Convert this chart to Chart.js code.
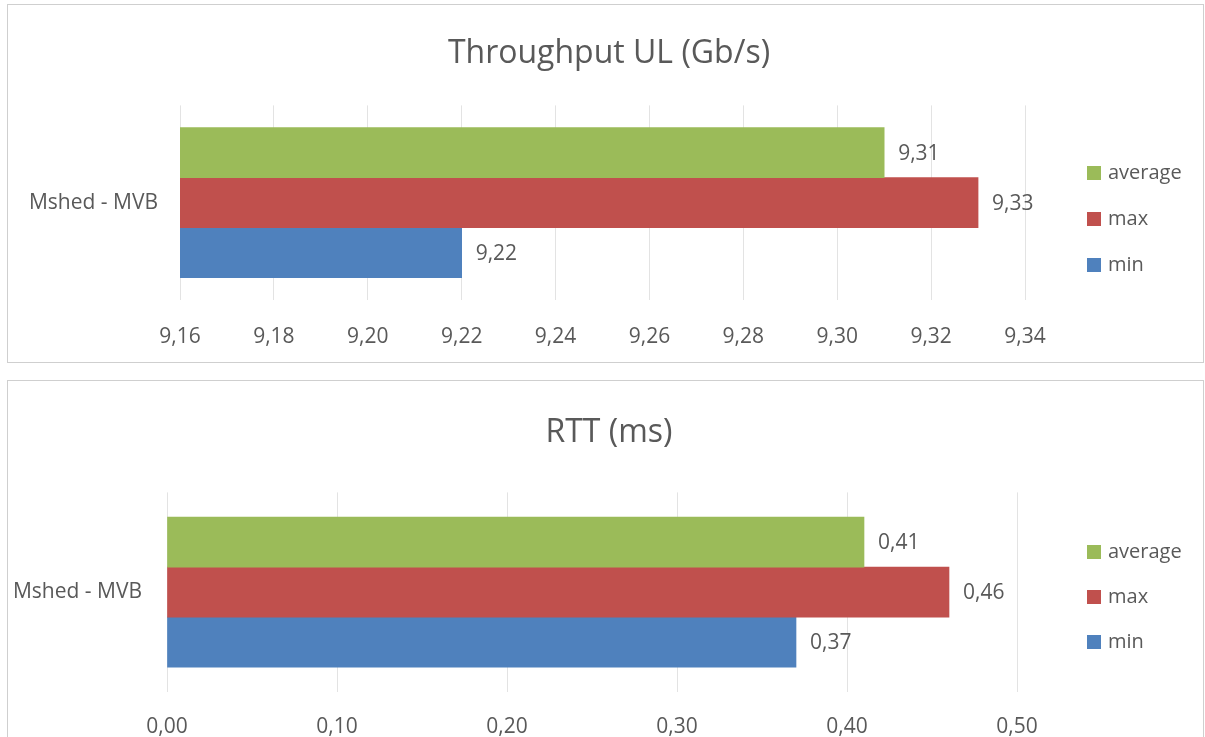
<!DOCTYPE html>
<html>
<head>
<meta charset="utf-8">
<script src="https://cdn.jsdelivr.net/npm/chart.js@4/dist/chart.umd.min.js"></script>
<style>
  html, body { margin: 0; padding: 0; background: #ffffff; overflow: hidden; }
  body { width: 1205px; height: 737px; position: relative; }
  .frame { position: absolute; border: 1px solid #cfcfcf; background: #ffffff; }
  canvas { position: absolute; left: 0; }
</style>
</head>
<body>
<div class="frame" style="left:7px; top:4px; width:1195px; height:357px;"></div>
<div class="frame" style="left:7px; top:380px; width:1195px; height:370px;"></div>
<canvas id="tput" width="1205" height="368" style="top:0px;"></canvas>
<canvas id="rtt" width="1205" height="367" style="top:370px;"></canvas>
<script>
// Categories and series
const categories = ['Mshed - MVB'];
const seriesNames = ['average', 'max', 'min'];
const seriesColors = ['#9bbb59', '#c0504d', '#4f81bd'];

// Throughput UL (Gb/s)
const throughputAverage = [9.31];
const throughputMax = [9.33];
const throughputMin = [9.22];
const throughputTicks = [9.16, 9.18, 9.20, 9.22, 9.24, 9.26, 9.28, 9.30, 9.32, 9.34];

// RTT (ms)
const rttAverage = [0.41];
const rttMax = [0.46];
const rttMin = [0.37];
const rttTicks = [0.00, 0.10, 0.20, 0.30, 0.40, 0.50];

const FONT = "'Open Sans', 'DejaVu Sans', sans-serif";
const TEXT = '#595959';

const fmt = v => Number(v).toFixed(2).replace('.', ',');

// Value labels to the right of each bar end
const valueLabels = {
  id: 'valueLabels',
  afterDatasetsDraw(chart) {
    const ctx = chart.ctx;
    ctx.save();
    ctx.font = '21px ' + FONT;
    ctx.fillStyle = TEXT;
    ctx.textAlign = 'left';
    ctx.textBaseline = 'middle';
    chart.data.datasets.forEach((ds, i) => {
      chart.getDatasetMeta(i).data.forEach((bar, j) => {
        ctx.fillText(fmt(ds.data[j]), bar.x + 14, bar.y + 1);
      });
    });
    ctx.restore();
  }
};

// Legend on the right: square swatch + series name
const sideLegend = {
  id: 'sideLegend',
  afterDraw(chart, args, opts) {
    const ctx = chart.ctx;
    ctx.save();
    ctx.font = '20px ' + FONT;
    ctx.textAlign = 'left';
    ctx.textBaseline = 'middle';
    chart.data.datasets.forEach((ds, i) => {
      const y = opts.y + i * opts.gap;
      ctx.fillStyle = ds.backgroundColor;
      ctx.fillRect(opts.x, y - 7, 14, 14);
      ctx.fillStyle = TEXT;
      ctx.fillText(ds.label, opts.x + 21, y);
    });
    ctx.restore();
  }
};

function makeChart(id, title, values, ticks, geom) {
  const tMin = ticks[0], tMax = ticks[ticks.length - 1];
  return new Chart(document.getElementById(id), {
    type: 'bar',
    data: {
      labels: categories,
      datasets: values.map((v, i) => ({
        label: seriesNames[i],
        data: v,
        backgroundColor: seriesColors[i],
        borderWidth: 0,
        barThickness: 50
      }))
    },
    options: {
      indexAxis: 'y',
      responsive: false,
      animation: false,
      events: [],
      layout: { padding: { left: geom.padLeft, right: 0, top: 0, bottom: 0 } },
      scales: {
        x: {
          min: tMin,
          max: tMax,
          afterBuildTicks(scale) {
            scale.ticks = ticks.map(v => ({ value: v }));
          },
          afterFit(scale) { scale.height = geom.xHeight; },
          grid: { color: '#e3e3e3', lineWidth: 1, drawTicks: false },
          border: { display: false },
          ticks: {
            padding: geom.xPad,
            color: TEXT,
            font: { family: FONT, size: 21 },
            callback: v => fmt(v),
            maxRotation: 0,
            autoSkip: false
          }
        },
        y: {
          afterFit(scale) { scale.width = geom.yWidth; },
          grid: { display: false, drawTicks: false },
          border: { display: false },
          ticks: {
            padding: geom.yPad,
            color: TEXT,
            font: { family: FONT, size: 21 }
          }
        },
        // empty right-hand band that holds the legend column
        legendBand: {
          type: 'category',
          axis: 'y',
          position: 'right',
          afterFit(scale) { scale.width = geom.rightBand; },
          grid: { display: false, drawTicks: false },
          border: { display: false },
          ticks: { display: false }
        }
      },
      plugins: {
        legend: { display: false },
        tooltip: { enabled: false },
        title: {
          display: true,
          text: title,
          color: TEXT,
          font: { family: FONT, size: 32, weight: 'normal' },
          padding: { top: geom.titleTop, bottom: geom.titleBottom }
        },
        sideLegend: { x: 1087, y: geom.legendY, gap: geom.legendGap }
      }
    },
    plugins: [valueLabels, sideLegend]
  });
}

makeChart('tput', 'Throughput UL (Gb/s)',
  [throughputAverage, throughputMax, throughputMin], throughputTicks,
  { padLeft: 13, yWidth: 167, rightBand: 180, xHeight: 68, xPad: 24, yPad: 22,
    titleTop: 35, titleBottom: 32, legendY: 173, legendGap: 46 });

makeChart('rtt', 'RTT (ms)',
  [rttAverage, rttMax, rttMin], rttTicks,
  { padLeft: 13, yWidth: 154, rightBand: 188, xHeight: 45, xPad: 22, yPad: 25,
    titleTop: 44, titleBottom: 40, legendY: 182, legendGap: 45 });
</script>
</body>
</html>
